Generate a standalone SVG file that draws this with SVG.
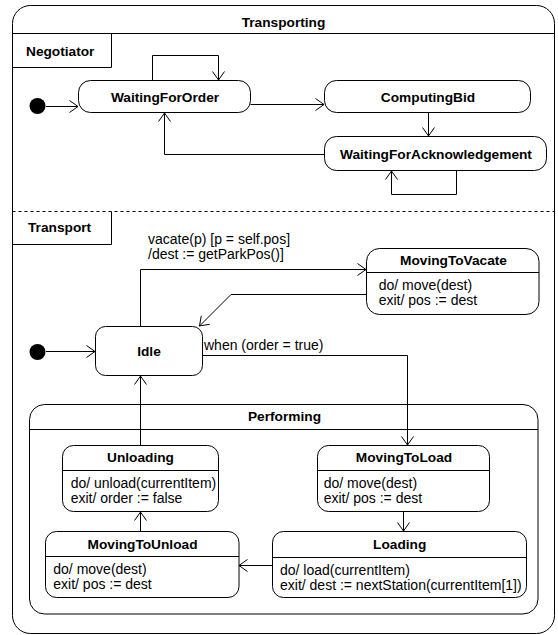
<svg xmlns="http://www.w3.org/2000/svg" width="558" height="635" viewBox="0 0 558 635">
<style>
.b{fill:#fff;stroke:#000;stroke-width:1}
.ln{fill:none;stroke:#000;stroke-width:1}
.t{font-family:"Liberation Sans",Arial,sans-serif;font-size:14px;fill:#000}
.bt{font-family:"Liberation Sans",Arial,sans-serif;font-size:13.7px;font-weight:bold;fill:#000}
.c{text-anchor:middle}
</style>
<defs>
<marker id="arr" viewBox="-10 -7 12 14" refX="0" refY="0" markerWidth="12" markerHeight="14" markerUnits="userSpaceOnUse" orient="auto">
<path d="M-8.5,-6 L0,0 L-8.5,6" fill="none" stroke="#000" stroke-width="1"/>
</marker>
</defs>
<rect width="558" height="635" fill="#fff"/>
<g id="Transporting">
<rect class="b" x="12.5" y="5.5" width="542" height="628" rx="18"/>
<line class="ln" x1="12.5" y1="33.5" x2="554.5" y2="33.5"/>
<text class="bt c" x="283.5" y="27">Transporting</text>
<line class="ln" x1="12.5" y1="211.5" x2="554.5" y2="211.5" stroke-dasharray="3,3"/>
</g>
<g id="Negotiator">
<path class="ln" d="M12.5,67.5 H111.5 V33.5"/>
<text class="bt" x="26" y="56">Negotiator</text>
</g>
<g id="Transport">
<path class="ln" d="M12.5,244.5 H111.5 V211.5"/>
<text class="bt" x="28" y="232">Transport</text>
</g>
<g id="init1"><circle cx="37.5" cy="106" r="8" fill="#000"/></g>
<g id="WaitingForOrder">
<rect class="b" x="78.5" y="80.5" width="172" height="32" rx="12"/>
<text class="bt c" x="165" y="101.5">WaitingForOrder</text>
</g>
<g id="ComputingBid">
<rect class="b" x="324.5" y="80.5" width="206" height="32" rx="12"/>
<text class="bt c" x="428" y="101.5">ComputingBid</text>
</g>
<g id="WaitingForAcknowledgement">
<rect class="b" x="324.5" y="136.5" width="222" height="34" rx="12"/>
<text class="bt c" x="436" y="158.5">WaitingForAcknowledgement</text>
</g>
<g id="init2"><circle cx="37.5" cy="352" r="8" fill="#000"/></g>
<g id="Idle">
<rect class="b" x="95.5" y="326.5" width="107" height="49" rx="10"/>
<text class="bt c" x="149" y="356">Idle</text>
</g>
<g id="MovingToVacate">
<rect class="b" x="366.5" y="248.5" width="172.5" height="66" rx="13"/>
<line class="ln" x1="366.5" y1="272.5" x2="539" y2="272.5"/>
<text class="bt c" x="453.5" y="265">MovingToVacate</text>
<text class="t" x="378.7" y="290">do/ move(dest)</text>
<text class="t" x="378.7" y="304.5">exit/ pos := dest</text>
</g>
<g id="Performing">
<rect class="b" x="29.5" y="404.5" width="508.5" height="209.5" rx="15"/>
<line class="ln" x1="29.5" y1="429.5" x2="538" y2="429.5"/>
<text class="bt c" x="284.5" y="420.5">Performing</text>
</g>
<g id="Unloading">
<rect class="b" x="62.5" y="445.5" width="156" height="66" rx="11"/>
<line class="ln" x1="62.5" y1="470.5" x2="218.5" y2="470.5"/>
<text class="bt c" x="140.5" y="462">Unloading</text>
<text class="t" x="70.7" y="488">do/ unload(currentItem)</text>
<text class="t" x="70.7" y="502.5">exit/ order := false</text>
</g>
<g id="MovingToLoad">
<rect class="b" x="317.5" y="445.5" width="172" height="66" rx="11"/>
<line class="ln" x1="317.5" y1="470.5" x2="489.5" y2="470.5"/>
<text class="bt c" x="404" y="462">MovingToLoad</text>
<text class="t" x="323.7" y="488">do/ move(dest)</text>
<text class="t" x="323.7" y="502.5">exit/ pos := dest</text>
</g>
<g id="Loading">
<rect class="b" x="272.5" y="531.5" width="254" height="66" rx="11"/>
<line class="ln" x1="272.5" y1="557.5" x2="526.5" y2="557.5"/>
<text class="bt c" x="399.7" y="548.5">Loading</text>
<text class="t" x="280" y="575">do/ load(currentItem)</text>
<text class="t" x="280" y="589.5">exit/ dest := nextStation(currentItem[1])</text>
</g>
<g id="MovingToUnload">
<rect class="b" x="45.5" y="531.5" width="193.5" height="66" rx="11"/>
<line class="ln" x1="45.5" y1="556.5" x2="239" y2="556.5"/>
<text class="bt c" x="142.5" y="548.5">MovingToUnload</text>
<text class="t" x="53.3" y="574">do/ move(dest)</text>
<text class="t" x="53.3" y="588.5">exit/ pos := dest</text>
</g>
<g id="connectors">
<path class="ln" marker-end="url(#arr)" d="M46,106.5 H78"/>
<path class="ln" marker-end="url(#arr)" d="M152.5,80 V55.5 H218.5 V80"/>
<path class="ln" marker-end="url(#arr)" d="M250.5,104.5 H324"/>
<path class="ln" marker-end="url(#arr)" d="M428.5,113 V136"/>
<path class="ln" marker-end="url(#arr)" d="M324,154.5 H164.5 V113"/>
<path class="ln" marker-end="url(#arr)" d="M456.5,171 V194.5 H391.5 V171"/>
<path class="ln" marker-end="url(#arr)" d="M46,351.5 H95"/>
<path class="ln" marker-end="url(#arr)" d="M140.5,326 V269.5 H366"/>
<path class="ln" marker-end="url(#arr)" d="M366,294.5 H231 L199.5,326"/>
<path class="ln" marker-end="url(#arr)" d="M202.5,355.5 H407.5 V445"/>
<path class="ln" marker-end="url(#arr)" d="M140.5,445 V376"/>
<path class="ln" marker-end="url(#arr)" d="M403.5,511.5 V531"/>
<path class="ln" marker-end="url(#arr)" d="M272,565.5 H239"/>
<path class="ln" marker-end="url(#arr)" d="M140.5,531 V512"/>
<text class="t" x="148" y="244" font-size="13.6">vacate(p) [p = self.pos]</text>
<text class="t" x="148" y="259" font-size="13.6">/dest := getParkPos()]</text>
<text class="t" x="204" y="350">when (order = true)</text>
</g>
</svg>
